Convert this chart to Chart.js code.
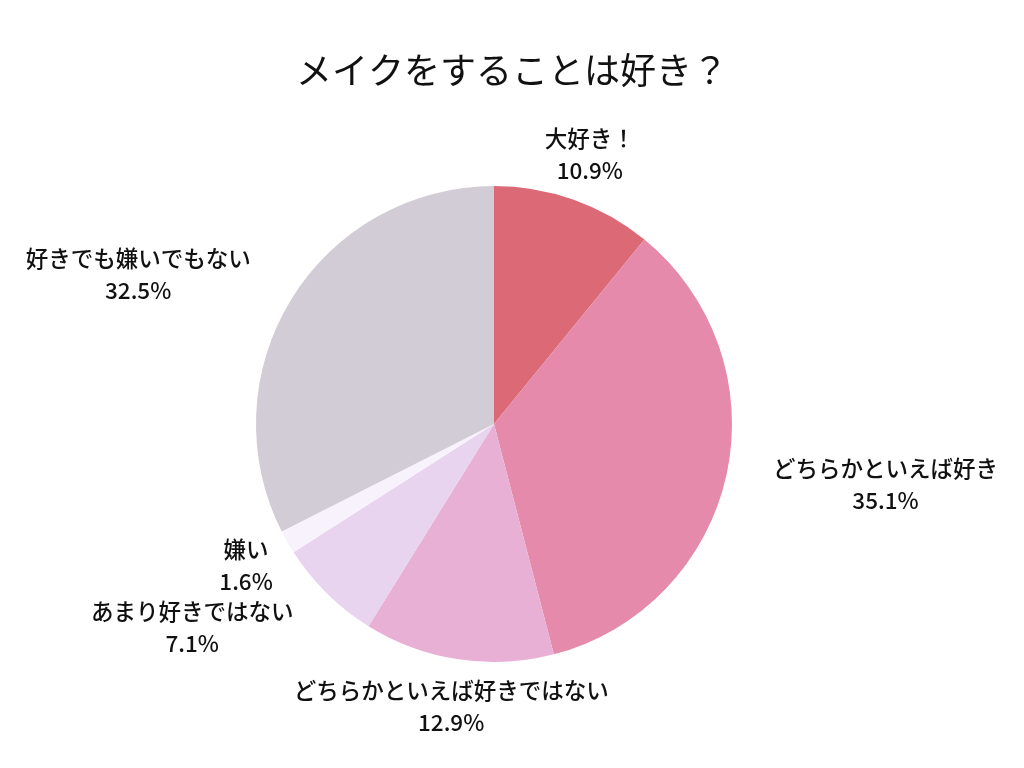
<!DOCTYPE html>
<html>
<head>
<meta charset="utf-8">
<script src="https://cdn.jsdelivr.net/npm/chart.js@4"></script>
<style>
  html, body { margin: 0; padding: 0; background: #fff; }
  #wrap { width: 1024px; height: 768px; }
</style>
</head>
<body>
<div id="wrap"><canvas id="myChart" width="1024" height="768"></canvas></div>
<script>
// answers, clockwise from 12 o'clock
const chartTitle = "メイクをすることは好き？";
const answers = ["大好き！", "どちらかといえば好き", "どちらかといえば好きではない", "あまり好きではない", "嫌い", "好きでも嫌いでもない"];
const shares = [10.9, 35.1, 12.9, 7.1, 1.6, 32.5];
const sliceColors = ["#dc6a76", "#e68aab", "#e8b0d5", "#e9d4ef", "#f7f2fc", "#d1ccd5"];

const FONT = "'Noto Sans CJK JP', 'Noto Sans', sans-serif";

// title centred on the page + "label / xx.x%" outside each slice
const outsideLabels = {
  id: "outsideLabels",
  afterDatasetsDraw(chart, args, opts) {
    let ctx = chart.ctx;
    let meta = chart.getDatasetMeta(0);
    ctx.save();
    ctx.fillStyle = "#111";
    ctx.textBaseline = "middle";
    ctx.textAlign = "center";

    ctx.font = "36px " + FONT;
    ctx.fillText(chartTitle, chart.width / 2, opts.titleY);

    ctx.font = "500 22.5px " + FONT;
    meta.data.forEach((arc, i) => {
      let p = arc.getProps(["x", "y", "startAngle", "endAngle", "outerRadius"], true);
      let mid = (p.startAngle + p.endAngle) / 2;
      let r = p.outerRadius * opts.distance;
      let x = p.x + Math.cos(mid) * r;
      let y = p.y + Math.sin(mid) * r;
      let lines = [answers[i], shares[i].toFixed(1) + "%"];
      let w = Math.max(...lines.map(t => ctx.measureText(t).width));
      let align = opts.align[i];
      let cx = x;
      if (align === "left") cx = x + w / 2;
      if (align === "right") cx = x - w / 2;
      ctx.fillText(lines[0], cx, y - opts.lineGap / 2);
      ctx.fillText(lines[1], cx, y + opts.lineGap / 2);
    });
    ctx.restore();
  }
};

let ctx = document.getElementById("myChart").getContext("2d");
let pieChart = new Chart(ctx, {
  type: "pie",
  data: {
    labels: answers,
    datasets: [{
      data: shares,
      backgroundColor: sliceColors,
      borderWidth: 0
    }]
  },
  options: {
    responsive: false,
    animation: false,
    layout: { padding: { left: 256, right: 292, top: 186, bottom: 106 } },
    plugins: {
      legend: { display: false },
      tooltip: { enabled: false },
      title: { display: false },
      outsideLabels: {
        titleY: 70,
        distance: 1.2,
        lineGap: 32,
        align: ["center", "left", "center", "right", "center", "right"]
      }
    }
  },
  plugins: [outsideLabels]
});
</script>
</body>
</html>
